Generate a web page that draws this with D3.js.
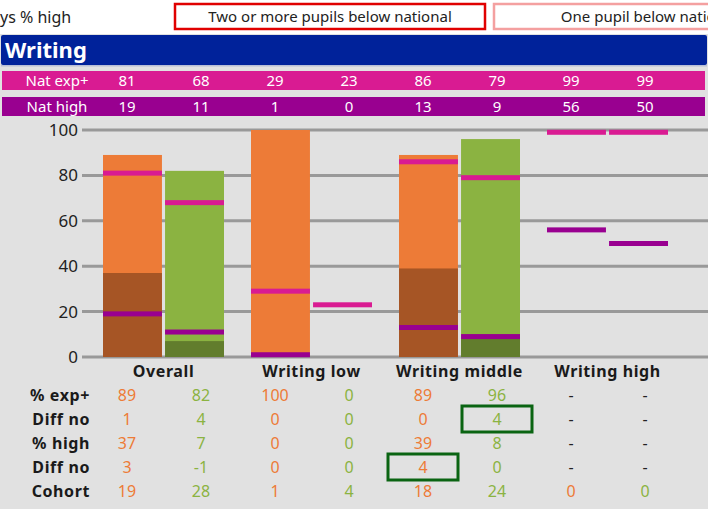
<!DOCTYPE html>
<html lang="en">
<head>
  <meta charset="utf-8">
  <style>
    html, body {
      margin: 0;
      padding: 0;
      background: #e1e1e1;
      width: 100%;
      height: 100%;
      overflow: hidden;
      font-family: "Noto Sans", sans-serif;
    }
    svg { display: block; }
  </style>
</head>
<body>
<svg width="708" height="509"></svg>

<script src="https://d3js.org/d3.v7.min.js"></script>
<script>
// ---- data ----
const groups = ["Overall", "Writing low", "Writing middle", "Writing high"];
const yTicks = [0, 20, 40, 60, 80, 100];

// 8 columns: orange / green per group
const natExp  = [81, 68, 29, 23, 86, 79, 99, 99];
const natHigh = [19, 11, 1, 0, 13, 9, 56, 50];
const pctExp   = [89, 82, 100, 0, 89, 96, null, null];
const diffExp  = [1, 4, 0, 0, 0, 4, null, null];
const pctHigh  = [37, 7, 0, 0, 39, 8, null, null];
const diffHigh = [3, -1, 0, 0, 4, 0, null, null];
const cohort   = [19, 28, 1, 4, 18, 24, 0, 0];

const tableRows = [
  { label: "% exp+", values: pctExp },
  { label: "Diff no", values: diffExp },
  { label: "% high", values: pctHigh },
  { label: "Diff no", values: diffHigh },
  { label: "Cohort", values: cohort }
];
// cells outlined in dark green: [row index, column index]
const flagged = [[1, 5], [3, 4]];

const colOrange = "#ed7b37", colOrangeDark = "#a65525";
const colGreen = "#8bb341", colGreenDark = "#627d2d";
const colMagenta = "#d91b92", colPurple = "#990090";

const svg = d3.select("svg");
const W = 708;

// ---- top strip ----
svg.append("rect").attr("x", 0).attr("y", 0).attr("width", W).attr("height", 34).attr("fill", "#fff");
svg.append("text").attr("x", 0).attr("y", 23)
  .attr("font-size", 16).attr("fill", "#222").text("ys % high");

const legendBoxes = [
  { x: 175, stroke: "#e00000", text: "Two or more pupils below national" },
  { x: 494, stroke: "#f4a0a0", text: "One pupil below national" }
];
legendBoxes.forEach(b => {
  svg.append("rect").attr("x", b.x).attr("y", 4).attr("width", 310).attr("height", 25)
    .attr("fill", "#fff").attr("stroke", b.stroke).attr("stroke-width", 2.5);
  svg.append("text").attr("x", b.x + 155).attr("y", 22).attr("text-anchor", "middle")
    .attr("font-size", 15).attr("fill", "#222").text(b.text);
});

// ---- header ----
svg.append("rect").attr("x", 1).attr("y", 35).attr("width", 706).attr("height", 30)
  .attr("rx", 2).attr("fill", "#00229a");
svg.append("rect").attr("x", 1).attr("y", 65).attr("width", 706).attr("height", 1.5)
  .attr("fill", "#b8bfd6");
svg.append("text").attr("x", 5).attr("y", 58)
  .attr("font-size", 22).attr("font-weight", "bold").attr("fill", "#fff").text("Writing");

// ---- scales ----
const colX = d3.scalePoint().domain(d3.range(8)).range([127, 645]);
const groupX = d3.scaleBand().domain(groups).range([89.5, 681.5]);
const subX = d3.scaleBand().domain([0, 1]).range([13.5, 134.5]).paddingInner(0.05);
const y = d3.scaleLinear().domain([0, 100]).range([357, 130]);

const barX = i => groupX(groups[Math.floor(i / 2)]) + subX(i % 2);
const bw = subX.bandwidth();

// ---- national rows ----
const natRows = [
  { label: "Nat exp+", values: natExp, fill: colMagenta, y: 71 },
  { label: "Nat high", values: natHigh, fill: colPurple, y: 97 }
];
natRows.forEach(r => {
  svg.append("rect").attr("x", 2).attr("y", r.y).attr("width", 703).attr("height", 19).attr("fill", r.fill);
  svg.append("text").attr("x", 57).attr("y", r.y + 15).attr("text-anchor", "middle")
    .attr("font-size", 15).attr("fill", "#fff").text(r.label);
  svg.selectAll(null).data(r.values).join("text")
    .attr("x", (d, i) => colX(i)).attr("y", r.y + 15).attr("text-anchor", "middle")
    .attr("font-size", 15).attr("fill", "#fff").text(d => d);
});

// ---- gridlines + y labels ----
const grid = svg.append("g");
grid.selectAll("line").data(yTicks).join("line")
  .attr("x1", 82).attr("x2", W).attr("y1", d => y(d)).attr("y2", d => y(d))
  .attr("stroke", "#999").attr("stroke-width", 3);
grid.selectAll("text").data(yTicks).join("text")
  .attr("x", 78).attr("y", d => y(d) + 6).attr("text-anchor", "end")
  .attr("font-size", 17).attr("fill", "#222").text(d => d);

// ---- bars ----
const cols = d3.range(8).filter(i => cohort[i] > 0 && pctExp[i] > 0);
const bars = svg.append("g");
bars.selectAll("rect.exp").data(cols).join("rect")
  .attr("x", i => barX(i)).attr("width", bw)
  .attr("y", i => y(pctExp[i])).attr("height", i => y(0) - y(pctExp[i]))
  .attr("fill", i => i % 2 ? colGreen : colOrange);
bars.selectAll("rect.high").data(cols.filter(i => pctHigh[i] > 0)).join("rect")
  .attr("x", i => barX(i)).attr("width", bw)
  .attr("y", i => y(pctHigh[i])).attr("height", i => y(0) - y(pctHigh[i]))
  .attr("fill", i => i % 2 ? colGreenDark : colOrangeDark);

// ---- national markers ----
const markers = svg.append("g");
[[natExp, colMagenta], [natHigh, colPurple]].forEach(([vals, c]) => {
  markers.append("g").selectAll("rect").data(d3.range(8).filter(i => vals[i] > 0)).join("rect")
    .attr("x", i => barX(i)).attr("width", bw)
    .attr("y", i => y(vals[i]) - 2.5).attr("height", 5)
    .attr("fill", c);
});

// ---- group labels ----
svg.selectAll("text.cat").data(groups).join("text")
  .attr("x", d => groupX(d) + groupX.bandwidth() / 2).attr("y", 377)
  .attr("text-anchor", "middle").attr("font-size", 16).attr("font-weight", "bold")
  .attr("letter-spacing", 0.6).attr("fill", "#1a1a1a").text(d => d);

// ---- table ----
const rowY = r => 395 + r * 24;
tableRows.forEach((row, r) => {
  svg.append("text").attr("x", 90).attr("y", rowY(r) + 6).attr("text-anchor", "end")
    .attr("font-size", 16).attr("font-weight", "bold").attr("letter-spacing", 0.6)
    .attr("fill", "#1a1a1a").text(row.label);
  svg.selectAll(null).data(row.values).join("text")
    .attr("x", (d, i) => colX(i)).attr("y", rowY(r) + 6).attr("text-anchor", "middle")
    .attr("font-size", 16)
    .attr("fill", (d, i) => d === null ? "#222" : (i % 2 ? colGreen : colOrange))
    .text(d => d === null ? "-" : d);
});

svg.selectAll("rect.flag").data(flagged).join("rect")
  .attr("x", d => colX(d[1]) - 35).attr("y", d => rowY(d[0]) - 13)
  .attr("width", 70).attr("height", 26)
  .attr("fill", "none").attr("stroke", "#0a6412").attr("stroke-width", 3);
</script>
</body>
</html>
